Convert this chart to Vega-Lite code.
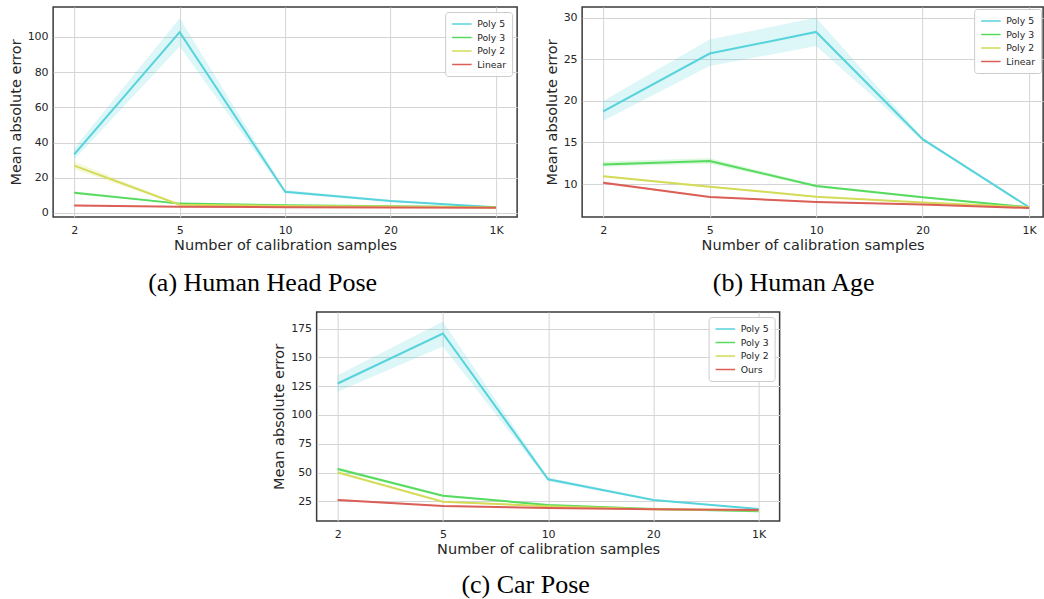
{
  "$schema": "https://vega.github.io/schema/vega-lite/v6.json",
  "padding": {"left": 7, "top": 6, "right": 0, "bottom": 0},
  "background": "white",
  "datasets": {
    "a": [
      {"n": "2", "model": "Poly 5", "mae": 33.3, "lo": 30.3, "hi": 36.7},
      {"n": "5", "model": "Poly 5", "mae": 102.7, "lo": 94.5, "hi": 110.6},
      {"n": "10", "model": "Poly 5", "mae": 12.0, "lo": 11.0, "hi": 13.0},
      {"n": "20", "model": "Poly 5", "mae": 6.8, "lo": 6.3, "hi": 7.3},
      {"n": "1K", "model": "Poly 5", "mae": 3.2, "lo": 3.0, "hi": 3.4},
      {"n": "2", "model": "Poly 3", "mae": 11.5, "lo": 10.8, "hi": 12.2},
      {"n": "5", "model": "Poly 3", "mae": 5.3, "lo": 4.9, "hi": 5.7},
      {"n": "10", "model": "Poly 3", "mae": 4.4, "lo": 4.2, "hi": 4.6},
      {"n": "20", "model": "Poly 3", "mae": 3.8, "lo": 3.7, "hi": 3.9},
      {"n": "1K", "model": "Poly 3", "mae": 3.2, "lo": 3.1, "hi": 3.3},
      {"n": "2", "model": "Poly 2", "mae": 26.9, "lo": 24.8, "hi": 29.2},
      {"n": "5", "model": "Poly 2", "mae": 4.7, "lo": 4.3, "hi": 5.1},
      {"n": "10", "model": "Poly 2", "mae": 4.0, "lo": 3.8, "hi": 4.2},
      {"n": "20", "model": "Poly 2", "mae": 3.6, "lo": 3.5, "hi": 3.7},
      {"n": "1K", "model": "Poly 2", "mae": 3.1, "lo": 3.0, "hi": 3.2},
      {"n": "2", "model": "Linear", "mae": 4.2, "lo": 3.8, "hi": 4.6},
      {"n": "5", "model": "Linear", "mae": 3.5, "lo": 3.3, "hi": 3.7},
      {"n": "10", "model": "Linear", "mae": 3.3, "lo": 3.2, "hi": 3.4},
      {"n": "20", "model": "Linear", "mae": 3.1, "lo": 3.0, "hi": 3.2},
      {"n": "1K", "model": "Linear", "mae": 2.9, "lo": 2.85, "hi": 2.95}
    ],
    "b": [
      {"n": "2", "model": "Poly 5", "mae": 18.74, "lo": 17.6, "hi": 20.0},
      {"n": "5", "model": "Poly 5", "mae": 25.7, "lo": 24.2, "hi": 27.4},
      {"n": "10", "model": "Poly 5", "mae": 28.3, "lo": 26.6, "hi": 30.0},
      {"n": "20", "model": "Poly 5", "mae": 15.4, "lo": 15.2, "hi": 15.6},
      {"n": "1K", "model": "Poly 5", "mae": 7.2, "lo": 7.15, "hi": 7.25},
      {"n": "2", "model": "Poly 3", "mae": 12.36, "lo": 12.1, "hi": 12.7},
      {"n": "5", "model": "Poly 3", "mae": 12.77, "lo": 12.45, "hi": 13.1},
      {"n": "10", "model": "Poly 3", "mae": 9.76, "lo": 9.6, "hi": 9.9},
      {"n": "20", "model": "Poly 3", "mae": 8.4, "lo": 8.3, "hi": 8.5},
      {"n": "1K", "model": "Poly 3", "mae": 7.19, "lo": 7.15, "hi": 7.23},
      {"n": "2", "model": "Poly 2", "mae": 10.92, "lo": 10.8, "hi": 11.05},
      {"n": "5", "model": "Poly 2", "mae": 9.68, "lo": 9.58, "hi": 9.78},
      {"n": "10", "model": "Poly 2", "mae": 8.48, "lo": 8.4, "hi": 8.56},
      {"n": "20", "model": "Poly 2", "mae": 7.76, "lo": 7.7, "hi": 7.82},
      {"n": "1K", "model": "Poly 2", "mae": 7.2, "lo": 7.16, "hi": 7.24},
      {"n": "2", "model": "Linear", "mae": 10.16, "lo": 10.0, "hi": 10.3},
      {"n": "5", "model": "Linear", "mae": 8.44, "lo": 8.34, "hi": 8.54},
      {"n": "10", "model": "Linear", "mae": 7.84, "lo": 7.76, "hi": 7.92},
      {"n": "20", "model": "Linear", "mae": 7.52, "lo": 7.45, "hi": 7.6},
      {"n": "1K", "model": "Linear", "mae": 7.11, "lo": 7.06, "hi": 7.16}
    ],
    "c": [
      {"n": "2", "model": "Poly 5", "mae": 127.3, "lo": 120.1, "hi": 134.5},
      {"n": "5", "model": "Poly 5", "mae": 170.7, "lo": 159.4, "hi": 181.1},
      {"n": "10", "model": "Poly 5", "mae": 44.1, "lo": 42.5, "hi": 45.7},
      {"n": "20", "model": "Poly 5", "mae": 26.2, "lo": 25.5, "hi": 26.9},
      {"n": "1K", "model": "Poly 5", "mae": 18.4, "lo": 18.0, "hi": 18.8},
      {"n": "2", "model": "Poly 3", "mae": 53.0, "lo": 51.5, "hi": 54.5},
      {"n": "5", "model": "Poly 3", "mae": 29.9, "lo": 29.0, "hi": 30.8},
      {"n": "10", "model": "Poly 3", "mae": 21.8, "lo": 21.3, "hi": 22.3},
      {"n": "20", "model": "Poly 3", "mae": 18.4, "lo": 18.1, "hi": 18.7},
      {"n": "1K", "model": "Poly 3", "mae": 16.3, "lo": 16.0, "hi": 16.6},
      {"n": "2", "model": "Poly 2", "mae": 50.1, "lo": 48.6, "hi": 51.6},
      {"n": "5", "model": "Poly 2", "mae": 24.7, "lo": 23.9, "hi": 25.5},
      {"n": "10", "model": "Poly 2", "mae": 20.7, "lo": 20.3, "hi": 21.1},
      {"n": "20", "model": "Poly 2", "mae": 18.1, "lo": 17.8, "hi": 18.4},
      {"n": "1K", "model": "Poly 2", "mae": 17.2, "lo": 16.9, "hi": 17.5},
      {"n": "2", "model": "Ours", "mae": 26.2, "lo": 25.4, "hi": 27.0},
      {"n": "5", "model": "Ours", "mae": 21.0, "lo": 20.5, "hi": 21.5},
      {"n": "10", "model": "Ours", "mae": 19.2, "lo": 18.8, "hi": 19.6},
      {"n": "20", "model": "Ours", "mae": 18.1, "lo": 17.8, "hi": 18.4},
      {"n": "1K", "model": "Ours", "mae": 17.5, "lo": 17.2, "hi": 17.8}
    ]
  },
  "config": {
    "font": "DejaVu Sans",
    "view": {"stroke": "#3a3a3a", "strokeWidth": 1.5},
    "axis": {
      "labelFont": "DejaVu Sans", "labelFontSize": 11, "labelColor": "#262626",
      "titleFont": "DejaVu Sans", "titleFontSize": 14.5, "titleFontWeight": "normal", "titleColor": "#262626",
      "ticks": false, "tickSize": 0, "domain": false, "grid": true, "labelOverlap": false,
      "gridColor": "#d4d4d4", "gridWidth": 1, "labelPadding": 5
    },
    "axisX": {"labelPadding": 7, "titlePadding": 3, "labelAngle": 0},
    "axisY": {"titlePadding": 4},
    "legend": {
      "orient": "top-right", "offset": 5,
      "strokeColor": "#cccccc", "fillColor": "rgba(255,255,255,0.85)", "cornerRadius": 3,
      "padding": 6, "rowPadding": 1.5, "symbolOpacity": 1,
      "symbolType": "M-1,0H2.9", "symbolSize": 100, "symbolStrokeWidth": 1.5,
      "labelFont": "DejaVu Sans", "labelFontSize": 9.3, "labelColor": "#262626", "labelOffset": 14
    },
    "title": {"font": "Liberation Serif", "fontSize": 26, "fontWeight": "normal", "color": "#000000", "orient": "bottom", "anchor": "middle", "frame": "bounds", "offset": 18},
    "concat": {"spacing": 10}
  },
  "resolve": {"scale": {"color": "independent"}, "legend": {"color": "independent"}},
  "center": true,
  "spacing": 14,
  "vconcat": [
    {
      "resolve": {"scale": {"color": "independent"}, "legend": {"color": "independent"}},
      "spacing": 25,
      "hconcat": [
        {
          "width": 464, "height": 210,
          "data": {"name": "a"},
          "title": {"text": "(a) Human Head Pose"},
          "encoding": {
            "x": {"field": "n", "type": "ordinal", "sort": ["2", "5", "10", "20", "1K"], "scale": {"type": "point", "padding": 0.2}, "axis": {"title": "Number of calibration samples"}},
            "color": {"field": "model", "type": "nominal", "scale": {"domain": ["Poly 5", "Poly 3", "Poly 2", "Linear"], "range": ["#57d3db", "#57db5f", "#d3db57", "#db5f57"]}, "legend": {"title": null, "symbolOpacity": 1}}
          },
          "layer": [
            {
              "mark": {"type": "area", "opacity": 0.2},
              "encoding": {
                "y": {"field": "lo", "type": "quantitative", "scale": {"domain": [-2.3, 117], "nice": false, "zero": false}, "axis": {"title": "Mean absolute error", "values": [0, 20, 40, 60, 80, 100], "labelOverlap": false}},
                "y2": {"field": "hi"}
              }
            },
            {
              "mark": {"type": "line", "strokeWidth": 2},
              "encoding": {
                "y": {"field": "mae", "type": "quantitative", "axis": {"title": "Mean absolute error", "values": [0, 20, 40, 60, 80, 100], "labelOverlap": false}}
              }
            }
          ]
        },
        {
          "width": 461, "height": 210,
          "data": {"name": "b"},
          "title": {"text": "(b) Human Age"},
          "encoding": {
            "x": {"field": "n", "type": "ordinal", "sort": ["2", "5", "10", "20", "1K"], "scale": {"type": "point", "padding": 0.165, "align": 0.6}, "axis": {"title": "Number of calibration samples"}},
            "color": {"field": "model", "type": "nominal", "scale": {"domain": ["Poly 5", "Poly 3", "Poly 2", "Linear"], "range": ["#57d3db", "#57db5f", "#d3db57", "#db5f57"]}, "legend": {"title": null, "offset": 2, "symbolOpacity": 1}}
          },
          "layer": [
            {
              "mark": {"type": "area", "opacity": 0.2},
              "encoding": {
                "y": {"field": "lo", "type": "quantitative", "scale": {"domain": [6.03, 31.3], "nice": false, "zero": false}, "axis": {"title": "Mean absolute error", "values": [10, 15, 20, 25, 30], "labelOverlap": false}},
                "y2": {"field": "hi"}
              }
            },
            {
              "mark": {"type": "line", "strokeWidth": 2},
              "encoding": {
                "y": {"field": "mae", "type": "quantitative", "axis": {"title": "Mean absolute error", "values": [10, 15, 20, 25, 30], "labelOverlap": false}}
              }
            }
          ]
        }
      ]
    },
    {
      "width": 463, "height": 209,
      "data": {"name": "c"},
      "title": {"text": "(c) Car Pose", "offset": 16},
      "encoding": {
        "x": {"field": "n", "type": "ordinal", "sort": ["2", "5", "10", "20", "1K"], "scale": {"type": "point", "padding": 0.2}, "axis": {"title": "Number of calibration samples"}},
        "color": {"field": "model", "type": "nominal", "scale": {"domain": ["Poly 5", "Poly 3", "Poly 2", "Ours"], "range": ["#57d3db", "#57db5f", "#d3db57", "#db5f57"]}, "legend": {"title": null, "symbolOpacity": 1}}
      },
      "layer": [
        {
          "mark": {"type": "area", "opacity": 0.2},
          "encoding": {
            "y": {"field": "lo", "type": "quantitative", "scale": {"domain": [7.9, 189.4], "nice": false, "zero": false}, "axis": {"title": "Mean absolute error", "values": [25, 50, 75, 100, 125, 150, 175], "labelOverlap": false, "labelSeparation": 0, "tickCount": 7}},
            "y2": {"field": "hi"}
          }
        },
        {
          "mark": {"type": "line", "strokeWidth": 2},
          "encoding": {
            "y": {"field": "mae", "type": "quantitative", "axis": {"title": "Mean absolute error", "values": [25, 50, 75, 100, 125, 150, 175], "labelOverlap": false, "labelSeparation": 0, "tickCount": 7}}
          }
        }
      ]
    }
  ]
}
